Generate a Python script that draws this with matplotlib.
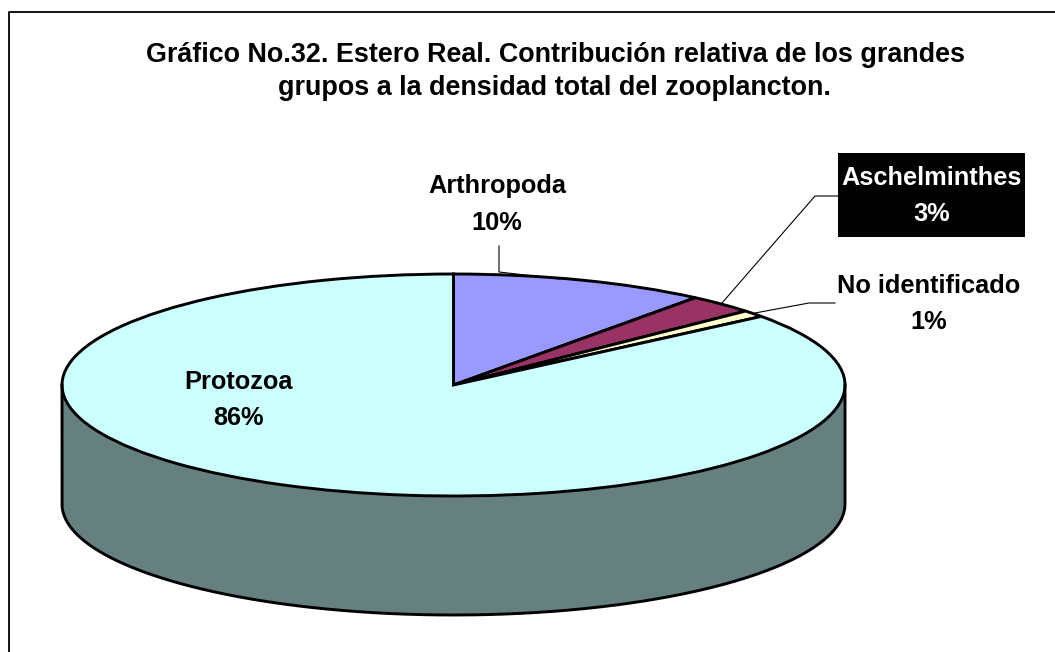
import numpy as np
import matplotlib
matplotlib.use('Agg')
import matplotlib.pyplot as plt
from matplotlib.lines import Line2D
from matplotlib.patches import Rectangle

plt.rcParams['font.family'] = ['Liberation Sans', 'DejaVu Sans']

# Datos
grupos = ['Arthropoda', 'Aschelminthes', 'No identificado', 'Protozoa']
valores = [10.6, 2.8, 1.0, 85.6]
etiquetas = ['10%', '3%', '1%', '86%']
colores = ['#9999FF', '#993366', '#FFFFCC', '#CCFFFF']
titulo = 'Gráfico No.32. Estero Real. Contribución relativa de los grandes\ngrupos a la densidad total del zooplancton.'

W, H = 1055, 652
cx, cy = 453.5, 385
rx, ry = 391.5, 111
depth = 119

fig = plt.figure(figsize=(W / 100, H / 100), dpi=100, facecolor='white')

# Marco: solo arriba y a la izquierda
fig.add_artist(Line2D([8.5 / W, 8.5 / W, 1], [0, 1 - 11.5 / H, 1 - 11.5 / H],
                      color='#111111', lw=1.4, transform=fig.transFigure))

ax = fig.add_axes([0, 0, 1, 1])
ax.patch.set_alpha(0)

# Lateral del pastel
t = np.linspace(np.pi, 2 * np.pi, 300)
xs = np.cos(t)
ax.fill_between(xs, np.sin(t), np.sin(t) - depth / ry, color='#668080', linewidth=0)
ax.plot(np.r_[-1, xs, 1], np.r_[0, np.sin(t) - depth / ry, 0], color='black', lw=2.1,
        solid_joinstyle='round')

# Tapa del pastel
ax.pie(valores, colors=colores, startangle=90, counterclock=False, radius=1,
       wedgeprops={'edgecolor': 'black', 'linewidth': 2.1})
ax.set_aspect('auto')
ax.set_xlim(-cx / rx, (W - cx) / rx)
ax.set_ylim((cy - H) / ry, cy / ry)
ax.axis('off')


def px(x, y):
    return (x - cx) / rx, (cy - y) / ry


# Caja negra de Aschelminthes
ax.add_patch(Rectangle(px(838, 237), 187 / rx, 84 / ry, facecolor='black', edgecolor='none', zorder=4))

# Etiquetas
posiciones = [(497, 204.5), (932, 196), (929, 304), (239, 400)]
for g, e, (x, y) in zip(grupos, etiquetas, posiciones):
    color = 'white' if g == 'Aschelminthes' else 'black'
    ax.text(*px(x, y), g + '\n' + e, ha='center', va='center', fontsize=18.3, fontweight='bold',
            color=color, linespacing=1.65, zorder=5)

# Lineas guia
guias = [[(499, 246), (499, 272), (560, 279)],
         [(838, 196), (815, 196), (722, 303)],
         [(835, 303), (809, 303), (755, 313)]]
for g in guias:
    pts = [px(*p) for p in g]
    ax.plot([p[0] for p in pts], [p[1] for p in pts], color='black', lw=0.8)

fig.text(555 / W, 1 - 71.5 / H, titulo, ha='center', va='center', fontsize=19.4, fontweight='bold',
         linespacing=1.35)

fig.savefig('out.png', dpi=100)
